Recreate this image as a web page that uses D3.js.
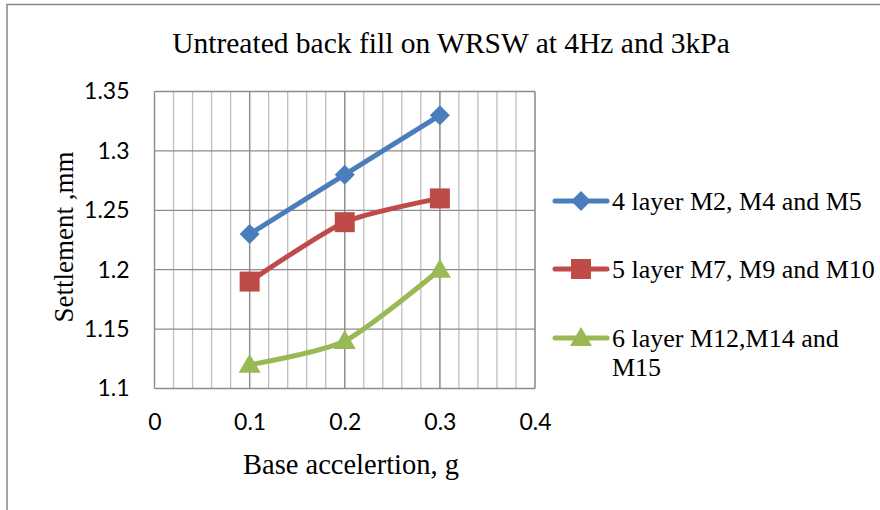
<!DOCTYPE html>
<html>
<head>
<meta charset="utf-8">
<script src="https://cdn.jsdelivr.net/npm/d3@7/dist/d3.min.js"></script>
<style>
  html, body { margin: 0; padding: 0; background: #fff; }
  svg { display: block; }
</style>
</head>
<body>
<svg id="chart" width="880" height="510"></svg>
<script>
// Base acceleration values (g) shared by all series
const accel = [0.1, 0.2, 0.3];

// Settlement (mm) for each geogrid layout
const settle4 = [1.23, 1.28, 1.33];
const settle5 = [1.19, 1.24, 1.26];
const settle6 = [1.12, 1.14, 1.20];

const seriesNames = [
  "4 layer M2, M4 and M5",
  "5 layer M7, M9 and M10",
  ["6 layer M12,M14 and", "M15"]
];
const seriesColors = ["#4A7EBB", "#BE4B48", "#98B954"];
const seriesMarkers = ["diamond", "square", "triangle"];

const xTicks = [0, 0.1, 0.2, 0.3, 0.4];
const yTicks = [1.1, 1.15, 1.2, 1.25, 1.3, 1.35];
const xMinorTicks = d3.range(0, 0.4001, 0.02);

const titleText = "Untreated back fill on WRSW at 4Hz and 3kPa";
const xTitle = "Base accelertion, g";
const yTitle = "Settlement ,mm";

const svg = d3.select("#chart");

// chart frame
svg.append("rect")
  .attr("x", 7).attr("y", 4.5)
  .attr("width", 900).attr("height", 520)
  .attr("fill", "none").attr("stroke", "#868686").attr("stroke-width", 1.5);

const plot = { left: 154.5, right: 535, top: 91.5, bottom: 388.5 };

const x = d3.scaleLinear().domain([0, 0.4]).range([plot.left, plot.right]);
const y = d3.scaleLinear().domain([1.1, 1.35]).range([plot.bottom, plot.top]);

// minor vertical gridlines
svg.append("g").selectAll("line")
  .data(xMinorTicks)
  .join("line")
  .attr("x1", d => x(d)).attr("x2", d => x(d))
  .attr("y1", plot.top).attr("y2", plot.bottom)
  .attr("stroke", "#BFBFBF").attr("stroke-width", 1.3);

// major vertical gridlines
svg.append("g").selectAll("line")
  .data(xTicks)
  .join("line")
  .attr("x1", d => x(d)).attr("x2", d => x(d))
  .attr("y1", plot.top).attr("y2", plot.bottom)
  .attr("stroke", "#8C8C8C").attr("stroke-width", 1.3);

// horizontal gridlines
svg.append("g").selectAll("line")
  .data(yTicks)
  .join("line")
  .attr("x1", plot.left).attr("x2", plot.right)
  .attr("y1", d => y(d)).attr("y2", d => y(d))
  .attr("stroke", "#8C8C8C").attr("stroke-width", 1.3);

// axes (labels only; lines come from the grid)
const tickFont = "Lato, 'Open Sans', sans-serif";
const xAxis = svg.append("g")
  .attr("transform", `translate(0,${plot.bottom})`)
  .call(d3.axisBottom(x).tickValues(xTicks).tickSize(0).tickPadding(25).tickFormat(d3.format("")));
const yAxis = svg.append("g")
  .attr("transform", `translate(${plot.left},0)`)
  .call(d3.axisLeft(y).tickValues(yTicks).tickSize(0).tickPadding(25).tickFormat(d => String(+d.toFixed(2))));
[xAxis, yAxis].forEach(a => {
  a.select(".domain").remove();
  a.selectAll("text")
    .attr("font-family", tickFont)
    .attr("font-size", 23)
    .attr("fill", "#000");
});

// series
const series = [settle4, settle5, settle6].map((vals, i) => ({
  values: accel.map((a, j) => ({ x: a, y: vals[j] })),
  color: seriesColors[i],
  marker: seriesMarkers[i]
}));

const line = d3.line()
  .x(d => x(d.x)).y(d => y(d.y))
  .curve(d3.curveCardinal.tension(0.3));

function markerPath(type) {
  if (type === "diamond") return "M0,-10L10,0L0,10L-10,0Z";
  if (type === "square") return "M-10,-10H10V10H-10Z";
  return "M0,-11L11,8L-11,8Z";
}

series.forEach(s => {
  svg.append("path")
    .attr("d", line(s.values))
    .attr("fill", "none")
    .attr("stroke", s.color)
    .attr("stroke-width", 5)
    .attr("stroke-linecap", "round");
  svg.append("g").selectAll("path")
    .data(s.values)
    .join("path")
    .attr("transform", d => `translate(${x(d.x)},${y(d.y)})`)
    .attr("d", markerPath(s.marker))
    .attr("fill", s.color);
});

const serif = "'Liberation Serif', 'Times New Roman', serif";

// title
svg.append("text")
  .attr("x", 451).attr("y", 53)
  .attr("text-anchor", "middle")
  .attr("font-family", serif).attr("font-size", 29.5)
  .text(titleText);

// axis titles
svg.append("text")
  .attr("x", 351).attr("y", 474)
  .attr("text-anchor", "middle")
  .attr("font-family", serif).attr("font-size", 28.5)
  .text(xTitle);

svg.append("text")
  .attr("transform", "translate(73,237) rotate(-90)")
  .attr("text-anchor", "middle")
  .attr("font-family", serif).attr("font-size", 27)
  .text(yTitle);

// legend
const legendY = [201, 269, 338];
series.forEach((s, i) => {
  const g = svg.append("g").attr("transform", `translate(0,${legendY[i]})`);
  g.append("line")
    .attr("x1", 555).attr("x2", 607)
    .attr("stroke", s.color).attr("stroke-width", 5)
    .attr("stroke-linecap", "round");
  g.append("path")
    .attr("transform", "translate(581,0)")
    .attr("d", markerPath(s.marker))
    .attr("fill", s.color);
  const name = seriesNames[i];
  const lines = Array.isArray(name) ? name : [name];
  const t = g.append("text")
    .attr("font-family", serif).attr("font-size", 26)
    .attr("fill", "#000");
  lines.forEach((ln, k) => {
    t.append("tspan")
      .attr("x", 612).attr("y", 9 + k * 29)
      .text(ln);
  });
});
</script>
</body>
</html>
